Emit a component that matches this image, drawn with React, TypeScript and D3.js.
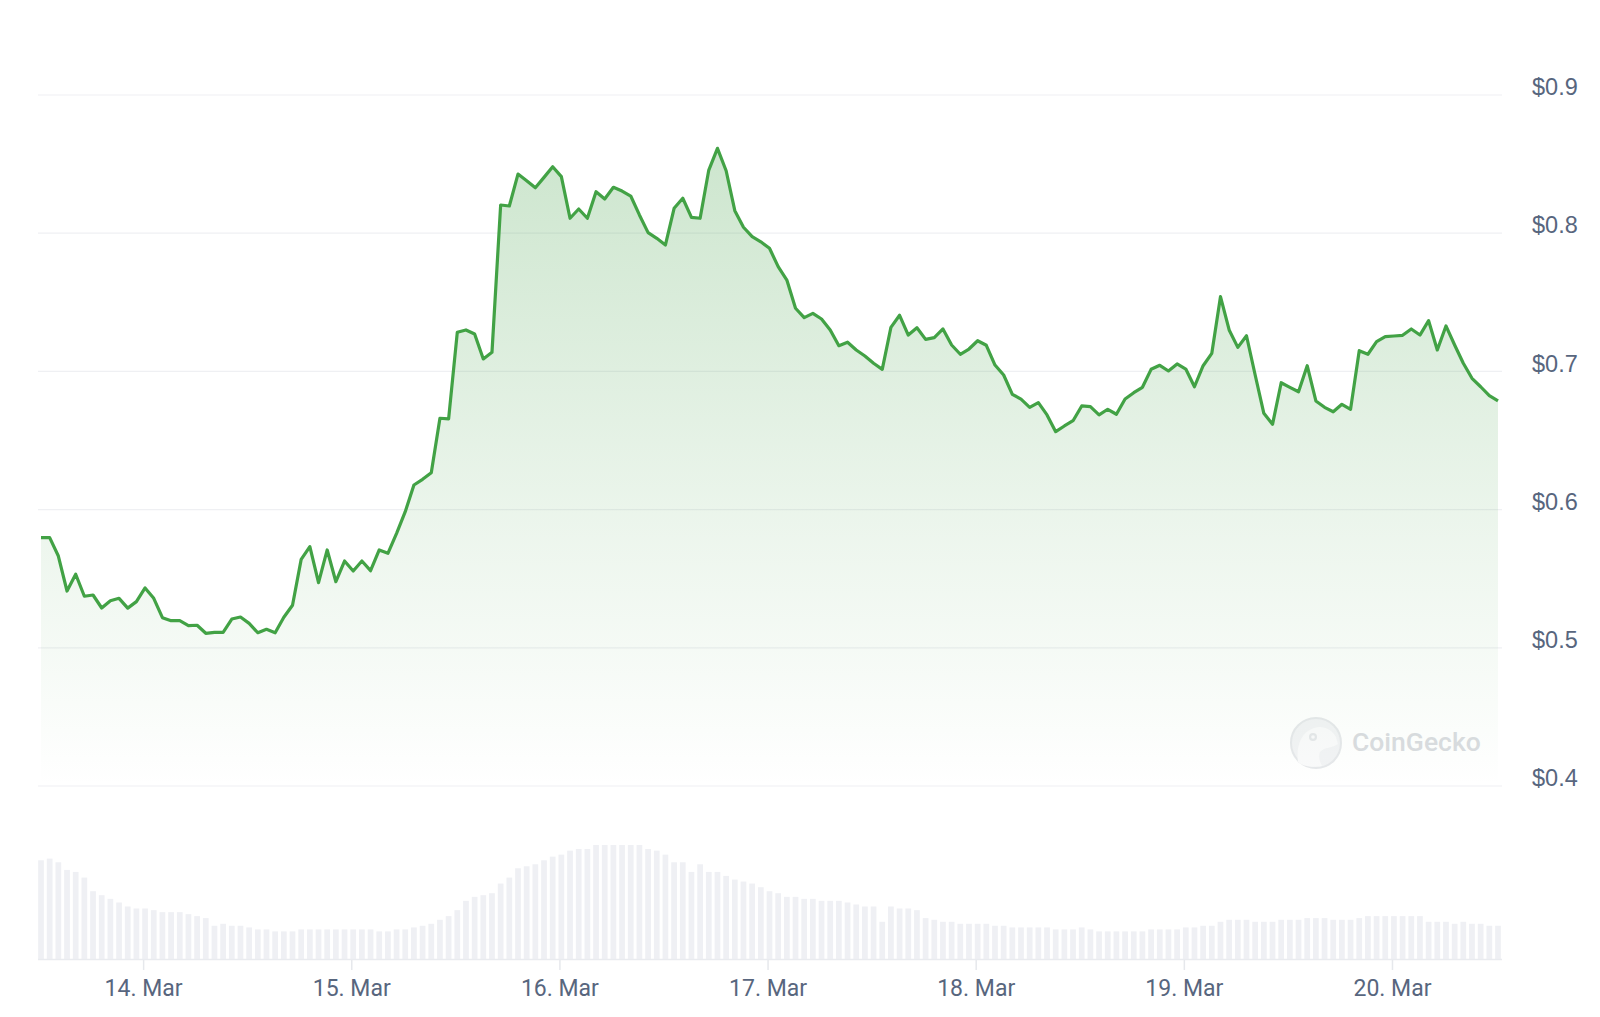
import React from 'react';
import * as d3 from 'd3';

// hourly samples, 13 Mar ~12:10 -> 20 Mar ~12:10
const startTime = new Date(2024, 2, 13, 12, 10);

const prices = [
  0.5797, 0.5797, 0.5664, 0.5411, 0.5532, 0.5373, 0.5382, 0.5288, 0.5341, 0.5358, 0.5287, 0.5334,
  0.5433, 0.5358, 0.5218, 0.5196, 0.5196, 0.516, 0.5163, 0.5105, 0.5112, 0.5112, 0.5208, 0.5223,
  0.5177, 0.5109, 0.5134, 0.5109, 0.5221, 0.5308, 0.564, 0.5732, 0.5471, 0.5708, 0.5478, 0.5628,
  0.5556, 0.5628, 0.5558, 0.5708, 0.5684, 0.5828, 0.5985, 0.6178, 0.6219, 0.6267, 0.6661, 0.6656,
  0.7283, 0.73, 0.7271, 0.709, 0.7138, 0.8204, 0.8197, 0.8428, 0.838, 0.8329, 0.8404, 0.8481,
  0.8409, 0.8108, 0.8175, 0.8108, 0.83, 0.8247, 0.8332, 0.8305, 0.8269, 0.8132, 0.8004, 0.7963,
  0.7915, 0.818, 0.8253, 0.8115, 0.8108, 0.8457, 0.8614, 0.8452, 0.8163, 0.8043, 0.7975, 0.7938,
  0.7891, 0.7758, 0.7661, 0.7457, 0.7389, 0.742, 0.7379, 0.73, 0.7186, 0.7211, 0.7155, 0.7111,
  0.7059, 0.7015, 0.7319, 0.7406, 0.7263, 0.7316, 0.7232, 0.7244, 0.7307, 0.7191, 0.7124, 0.7162,
  0.7222, 0.7189, 0.7046, 0.6974, 0.6834, 0.68, 0.674, 0.6774, 0.6685, 0.6564, 0.6605, 0.6643,
  0.675, 0.6745, 0.6685, 0.6726, 0.669, 0.68, 0.6846, 0.6885, 0.7015, 0.7044, 0.7003, 0.7054,
  0.7017, 0.6889, 0.7041, 0.7131, 0.7541, 0.73, 0.7174, 0.7258, 0.6974, 0.6697, 0.6617, 0.6918,
  0.6885, 0.6853, 0.7041, 0.6786, 0.674, 0.6708, 0.6762, 0.6726, 0.715, 0.7124, 0.7215, 0.7251,
  0.7256, 0.7261, 0.7307, 0.7263, 0.7367, 0.7155, 0.7329, 0.7191, 0.7059, 0.695, 0.6889, 0.6824,
  0.6786,
];

// relative volume per hour
const volumes = [
  297, 302, 291, 268, 262, 245, 204, 192, 181, 170, 158, 152, 152, 147, 141, 141, 141, 135, 129, 123,
  100, 106, 100, 100, 95, 89, 89, 83, 83, 83, 89, 89, 89, 89, 89, 89, 89, 89, 89, 83, 83, 89, 89, 95,
  100, 106, 118, 129, 147, 175, 187, 192, 198, 227, 245, 273, 279, 285, 297, 308, 314, 326, 331, 331,
  343, 343, 343, 343, 343, 343, 331, 326, 314, 291, 291, 262, 285, 262, 262, 250, 239, 233, 227, 216,
  204, 198, 187, 187, 181, 181, 175, 175, 175, 170, 164, 158, 158, 112, 158, 152, 152, 147, 123, 118,
  112, 112, 106, 106, 106, 106, 100, 100, 95, 95, 95, 95, 95, 89, 89, 89, 95, 89, 83, 83, 83, 83, 83,
  83, 89, 89, 89, 89, 95, 95, 100, 100, 112, 118, 118, 118, 112, 112, 112, 118, 118, 118, 123, 123,
  123, 118, 118, 118, 123, 129, 129, 129, 129, 129, 129, 129, 112, 112, 112, 106, 112, 106, 106, 100,
  100,
];

const yTicks = [0.4, 0.5, 0.6, 0.7, 0.8, 0.9];
const dayTicks = [14, 15, 16, 17, 18, 19, 20];
const dayLabels = ['14. Mar', '15. Mar', '16. Mar', '17. Mar', '18. Mar', '19. Mar', '20. Mar'];

const W = 1600;
const H = 1017;
const green = '#42a245';
const labelColor = '#58667e';
const gridColor = '#eff0f3';

export default function App() {
  const times = prices.map((_, i) => d3.timeHour.offset(startTime, i));

  const x = d3.scaleTime().domain([times[0], times[times.length - 1]]).range([41, 1498]);
  const y = d3.scaleLinear().domain([0.4, 0.9]).range([786, 95]);
  const vy = d3.scaleLinear().domain([0, 343]).range([959, 845]);

  const step = x(times[1]) - x(times[0]);
  const barW = step * 0.66;

  const line = d3.line<number>()
    .x((_, i) => x(times[i]))
    .y(d => y(d));

  const area = d3.area<number>()
    .x((_, i) => x(times[i]))
    .y0(y(0.4))
    .y1(d => y(d));

  return (
    <svg width={W} height={H} style={{ position: 'absolute', left: 0, top: 0, background: '#fff' }}>
      <defs>
        <linearGradient id="price-fill" gradientUnits="userSpaceOnUse" x1="0" y1="140" x2="0" y2="786">
          <stop offset="0%" stopColor="#43a047" stopOpacity={0.27} />
          <stop offset="60%" stopColor="#43a047" stopOpacity={0.1} />
          <stop offset="100%" stopColor="#43a047" stopOpacity={0} />
        </linearGradient>
      </defs>

      {/* grid */}
      {yTicks.map(t => (
        <line key={t} x1={38} x2={1502} y1={y(t)} y2={y(t)} stroke={gridColor} strokeWidth={1.2} />
      ))}

      {/* y labels */}
      {yTicks.map(t => (
        <text key={'l' + t} x={1532} y={y(t) - 8} dy="0.35em" fill={labelColor}
          fontFamily="'Liberation Sans', Arial, sans-serif" fontSize={23.5}>
          {'$' + t.toFixed(1)}
        </text>
      ))}

      {/* watermark */}
      <g opacity={0.9}>
        <circle cx={1316} cy={743} r={25} fill="#f1f2f4" stroke="#e4e6e9" strokeWidth={2} />
        <path d="M1298,762 C1296,748 1300,732 1314,728 C1324,725 1332,730 1336,737 L1338,744 C1333,748 1324,747 1320,752 C1318,757 1320,762 1322,766 C1312,768 1302,766 1298,762 Z"
          fill="#fafafb" />
        <circle cx={1313} cy={737} r={4} fill="#e3e5e8" />
        <circle cx={1313} cy={737} r={1.8} fill="#fafafb" />
        <text x={1352} y={751} fill="#d6d9dd" fontFamily="Roboto, 'Liberation Sans', sans-serif"
          fontWeight={500} fontSize={26.5}>CoinGecko</text>
      </g>

      {/* price area + line */}
      <path d={area(prices) || ''} fill="url(#price-fill)" />
      <path d={line(prices) || ''} fill="none" stroke={green} strokeWidth={3.2} strokeLinejoin="round" />

      {/* volume */}
      {volumes.map((v, i) => (
        <rect key={'v' + i} x={x(times[i]) - barW / 2} y={vy(v)} width={barW} height={vy(0) - vy(v)}
          fill="#eff0f4" />
      ))}
      <line x1={38} x2={1502} y1={959.5} y2={959.5} stroke="#e9ebef" strokeWidth={1.5} />

      {/* x axis */}
      {dayTicks.map((d, i) => {
        const tx = x(new Date(2024, 2, d));
        return (
          <g key={'d' + d}>
            <line x1={tx} x2={tx} y1={960} y2={970} stroke="#e6e8ec" strokeWidth={1.5} />
            <text x={tx} y={988} dy="0.35em" textAnchor="middle" fill={labelColor}
              fontFamily="Roboto, 'Liberation Sans', sans-serif" fontSize={23}>
              {dayLabels[i]}
            </text>
          </g>
        );
      })}
    </svg>
  );
}
